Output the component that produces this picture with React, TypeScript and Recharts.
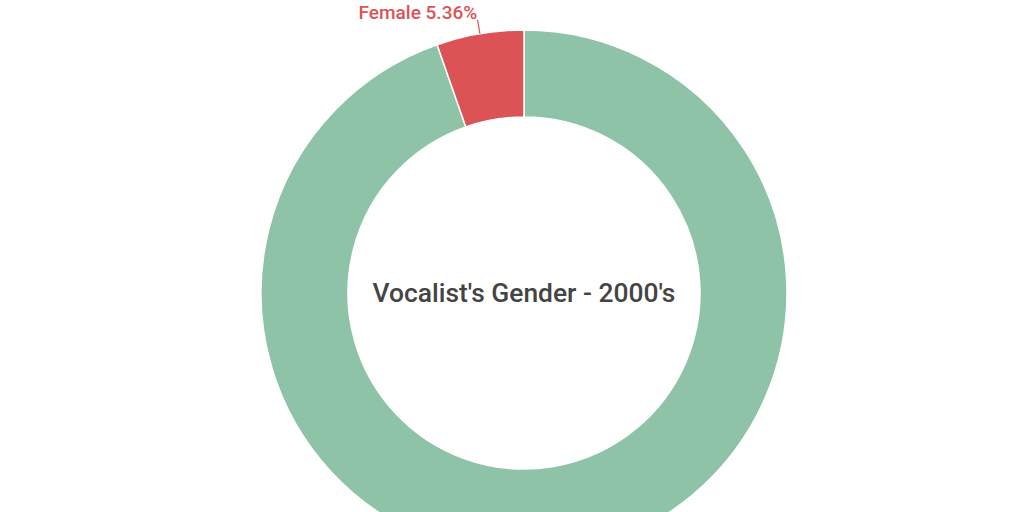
import React from "react";
import { PieChart, Pie, Cell } from "recharts";

const categories = ["Male", "Female"];
const values = [94.64, 5.36];
const colors = ["#8fc3a8", "#dc5356"];
const title = "Vocalist's Gender - 2000's";

const data = categories.map((name, i) => ({ name, value: values[i] }));

const RAD = Math.PI / 180;

const renderLabel = (props: any) => {
  const { cx, cy, midAngle, outerRadius, index, name, value } = props;
  if (index === 0) {
    return (
      <text
        x={cx}
        y={cy}
        textAnchor="middle"
        dominantBaseline="central"
        fill="#444444"
        fontSize={26.4}
        fontWeight={500}
        fontFamily="Roboto"
      >
        {title}
      </text>
    );
  }
  const sin = Math.sin(-midAngle * RAD);
  const cos = Math.cos(-midAngle * RAD);
  const x1 = cx + outerRadius * cos;
  const y1 = cy + outerRadius * sin;
  const x2 = cx + (outerRadius + 14) * cos;
  const y2 = cy + (outerRadius + 14) * sin;
  const tx = cx + (outerRadius + 22) * cos;
  const ty = cy + (outerRadius + 22) * sin;
  return (
    <g>
      <line x1={x1} y1={y1} x2={x2} y2={y2} stroke={colors[index]} strokeWidth={1.2} />
      <text
        x={tx + 1}
        y={ty}
        textAnchor={cos >= 0 ? "start" : "end"}
        dominantBaseline="central"
        fill={colors[index]}
        fontSize={19}
        fontWeight={500}
        fontFamily="Roboto"
      >
        {`${name} ${value.toFixed(2)}%`}
      </text>
    </g>
  );
};

export default function App() {
  return (
    <div style={{ position: "absolute", left: 0, top: 0, width: 1024, height: 512, background: "#fff" }}>
      <PieChart width={1024} height={512}>
        <Pie
          data={data}
          dataKey="value"
          nameKey="name"
          cx={519}
          cy={288}
          innerRadius={176}
          outerRadius={263}
          startAngle={90}
          endAngle={-270}
          stroke="#ffffff"
          strokeWidth={1.5}
          label={renderLabel}
          labelLine={false}
          isAnimationActive={false}
        >
          {data.map((d, i) => (
            <Cell key={d.name} fill={colors[i]} />
          ))}
        </Pie>
      </PieChart>
    </div>
  );
}
